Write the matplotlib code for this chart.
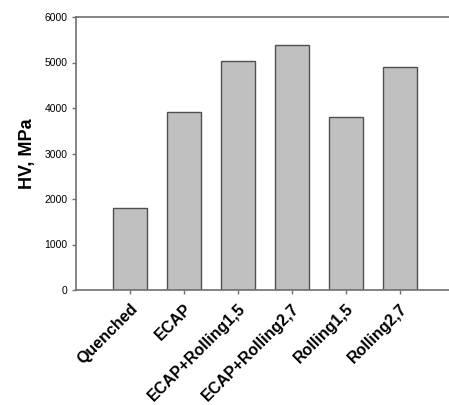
import matplotlib
matplotlib.use("Agg")
import matplotlib.pyplot as plt
from matplotlib.transforms import ScaledTranslation

plt.rcParams["font.family"] = ["Liberation Sans", "DejaVu Sans"]

categories = ["Quenched", "ECAP", "ECAP+Rolling1,5", "ECAP+Rolling2,7", "Rolling1,5", "Rolling2,7"]
hv = [1810, 3920, 5030, 5390, 3795, 4910]

fig = plt.figure(figsize=(4.49, 4.05), dpi=100)
ax = fig.add_axes([76 / 449, 115 / 405, 378 / 449, 273 / 405])

x = range(len(categories))
ax.bar(x, hv, width=0.63, color="#c0c0c0", edgecolor="#505050", linewidth=1.0, zorder=2)

ax.set_xlim(-1, 6)
ax.set_ylim(0, 6000)
ax.set_yticks(range(0, 6001, 1000))
ax.set_xticks(list(x))
ax.set_xticklabels(categories, rotation=45, ha="right", va="center", rotation_mode="anchor",
                   fontsize=11.5, fontweight="bold")
ax.tick_params(axis="y", labelsize=7.5, length=3, width=1, color="#707070", pad=3)
ax.tick_params(axis="x", length=3, width=1, color="#707070", pad=8.5)

# nudge the rotated labels to the right, like the original
shift = ScaledTranslation(5 / 100, 0, fig.dpi_scale_trans)
for lbl in ax.get_xticklabels():
    lbl.set_transform(lbl.get_transform() + shift)

ax.set_ylabel("HV, MPa", fontsize=13, fontweight="bold", labelpad=6)

for side in ("left", "top", "bottom"):
    ax.spines[side].set_color("#707070")
    ax.spines[side].set_linewidth(1.2)
ax.spines["right"].set_visible(False)

fig.savefig("out.png", dpi=100)
